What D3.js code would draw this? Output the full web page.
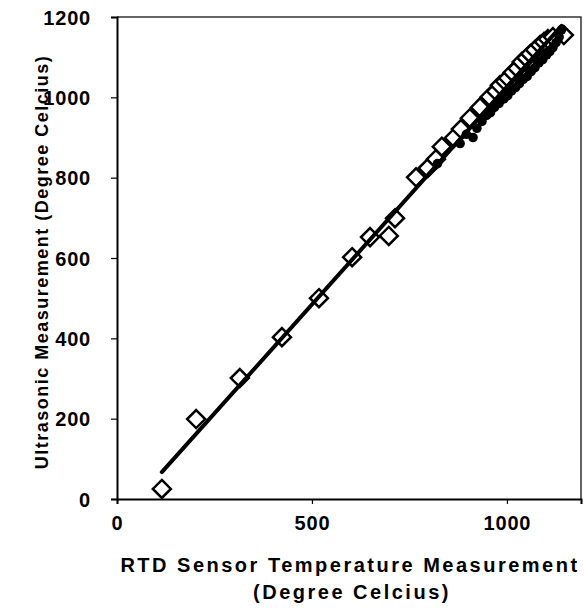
<!DOCTYPE html>
<html>
<head>
<meta charset="utf-8">
<script src="https://cdn.jsdelivr.net/npm/d3@7"></script>
<style>
  body { margin: 0; background: #fff; }
  svg text { font-family: "Liberation Sans", Arial, sans-serif; font-weight: bold; fill: #000; }
</style>
</head>
<body>
<div id="chart"></div>
<script>
// open diamonds: [RTD, ultrasonic]
const diamondRTD = [115, 203, 315, 423, 518, 603, 649, 697, 713, 767, 797, 818, 833, 864, 882, 905, 931,
  956, 972, 982, 995, 1003, 1015, 1027, 1038, 1050, 1060, 1072, 1085, 1095, 1105, 1118, 1146];
const diamondUS = [25, 199, 301, 403, 500, 602, 652, 655, 699, 801, 824, 846, 877, 899, 921, 948, 975,
  1001, 1015, 1030, 1040, 1048, 1062, 1072, 1088, 1098, 1108, 1118, 1130, 1138, 1145, 1150, 1155];

// filled dots
const dotRTD = [822, 880, 896, 913, 923, 936, 948, 958, 968, 975, 980, 992, 1002, 1008, 1012, 1022, 1032,
  1038, 1042, 1052, 1058, 1062, 1072, 1078, 1082, 1092, 1098, 1102, 1110, 1118, 1126, 1134, 1140];
const dotUS = [835, 885, 908, 900, 923, 940, 955, 962, 975, 985, 985, 996, 1004, 1015, 1016, 1024, 1034,
  1046, 1045, 1052, 1068, 1064, 1074, 1090, 1086, 1094, 1110, 1106, 1114, 1124, 1136, 1150, 1168];

// trend line end points
const trendRTD = [115, 1140];
const trendUS = [67, 1178];

const xTicks = [0, 500, 1000];
const yTicks = [0, 200, 400, 600, 800, 1000, 1200];

(function () {
const width = 584, height = 608;
const mLeft = 117, mRight = 581, mTop = 17, mBottom = 499;

const svg = d3.select('#chart').append('svg')
  .attr('width', width).attr('height', height);

const x = d3.scaleLinear([0, 1190], [mLeft, mRight]);
const y = d3.scaleLinear([0, 1200], [mBottom, mTop]);
const fmt = d3.format('d');

// frame (top and right)
svg.append('path')
  .attr('d', `M${mLeft},${mTop}H${mRight}V${mBottom}`)
  .attr('fill', 'none').attr('stroke', '#333').attr('stroke-width', 1.5);

// axes
const axX = svg.append('g').attr('transform', `translate(0,${mBottom})`)
  .call(d3.axisBottom(x).tickValues(xTicks).tickFormat(fmt).tickSize(5).tickPadding(14));
const axY = svg.append('g').attr('transform', `translate(${mLeft},0)`)
  .call(d3.axisLeft(y).tickValues(yTicks).tickFormat(fmt).tickSize(6).tickPadding(20));
[axX, axY].forEach(a => {
  a.select('.domain').attr('stroke-width', 2);
  a.selectAll('.tick line').attr('stroke-width', 1.2);
  a.selectAll('text').style('font-size', '20px').style('letter-spacing', '0.8px');
});
axY.selectAll('text').attr('dy', '0.36em');
axX.selectAll('text').attr('dy', '0.6em');

const diamonds = diamondRTD.map((d, i) => [d, diamondUS[i]]);
const dots = dotRTD.map((d, i) => [d, dotUS[i]]);

svg.append('g').selectAll('path')
  .data(diamonds).join('path')
  .attr('transform', d => `translate(${x(d[0])},${y(d[1])})`)
  .attr('d', 'M0,-9L9,0L0,9L-9,0Z')
  .attr('fill', '#fff').attr('stroke', '#000').attr('stroke-width', 2.5);

svg.append('g').selectAll('circle')
  .data(dots).join('circle')
  .attr('cx', d => x(d[0])).attr('cy', d => y(d[1]))
  .attr('r', 4.8).attr('fill', '#000');

svg.append('line')
  .attr('x1', x(trendRTD[0])).attr('y1', y(trendUS[0]))
  .attr('x2', x(trendRTD[1])).attr('y2', y(trendUS[1]))
  .attr('stroke', '#000').attr('stroke-width', 4).attr('stroke-linecap', 'round');

// axis titles
svg.append('text')
  .attr('transform', `translate(48,${(mTop + mBottom) / 2 + 4})rotate(-90)`)
  .attr('text-anchor', 'middle').style('font-size', '18px').style('letter-spacing', '1.5px')
  .text('Ultrasonic Measurement (Degree Celcius)');

svg.append('text')
  .attr('x', 350).attr('y', 572).attr('text-anchor', 'middle')
  .style('font-size', '20px').style('letter-spacing', '2.5px')
  .text('RTD Sensor Temperature Measurement');
svg.append('text')
  .attr('x', 352).attr('y', 599).attr('text-anchor', 'middle')
  .style('font-size', '20px').style('letter-spacing', '2.5px')
  .text('(Degree Celcius)');
})();
</script>
</body>
</html>
